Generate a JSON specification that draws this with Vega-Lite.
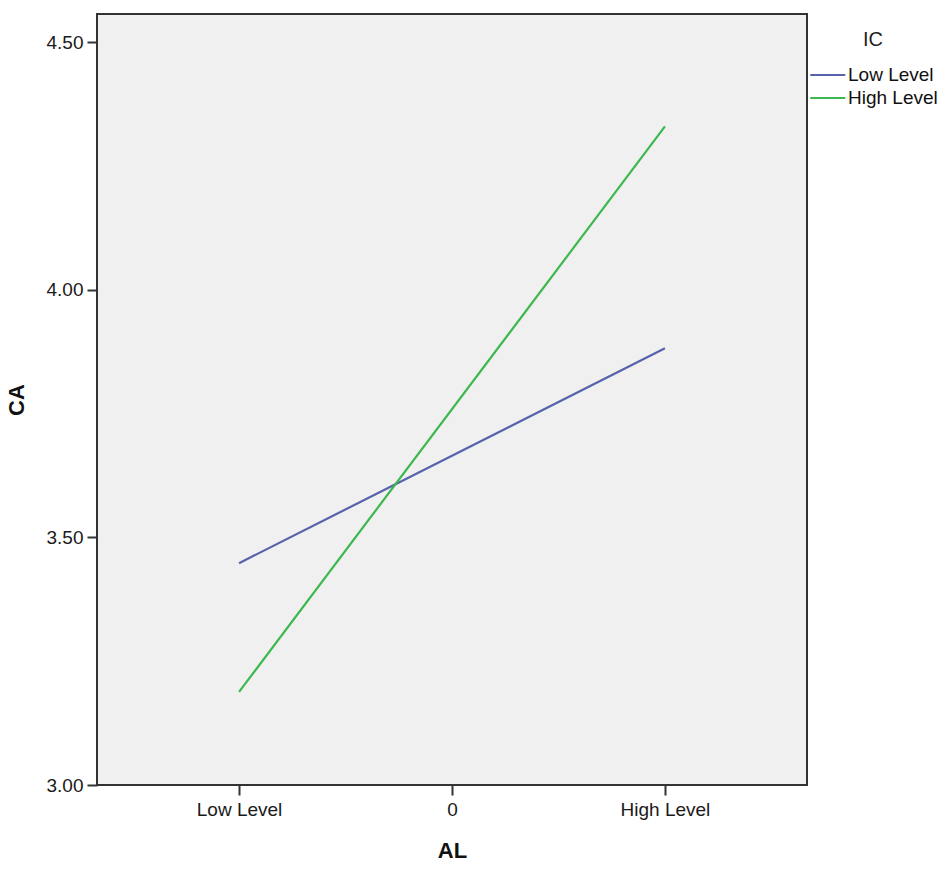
{
  "$schema": "https://vega.github.io/schema/vega-lite/v6.json",
  "autosize": "none",
  "width": 710,
  "height": 771,
  "padding": {"left": 97, "top": 14, "right": 138, "bottom": 89},
  "background": "white",
  "config": {
    "font": "Liberation Sans",
    "view": {"fill": "#f0f0f0", "stroke": "#333333", "strokeWidth": 2},
    "axis": {
      "domain": false,
      "grid": false,
      "ticks": true,
      "tickColor": "#333333",
      "tickWidth": 2,
      "tickSize": 10,
      "labelFont": "Liberation Sans",
      "labelFontSize": 19,
      "labelColor": "#1a1a1a",
      "titleFont": "Liberation Sans",
      "titleFontSize": 22,
      "titleFontWeight": "bold",
      "titleColor": "#111111"
    },
    "legend": {
      "labelFont": "Liberation Sans",
      "titleFont": "Liberation Sans"
    }
  },
  "data": {
    "values": [
      {"AL": -1, "CA": 3.448, "IC": "Low Level"},
      {"AL": 1, "CA": 3.882, "IC": "Low Level"},
      {"AL": -1, "CA": 3.188, "IC": "High Level"},
      {"AL": 1, "CA": 4.330, "IC": "High Level"}
    ]
  },
  "mark": {"type": "line", "strokeWidth": 2.2, "clip": true},
  "encoding": {
    "x": {
      "field": "AL",
      "type": "quantitative",
      "scale": {"domain": [-1.667, 1.667], "nice": false, "zero": false},
      "axis": {
        "title": "AL",
        "values": [-1, 0, 1],
        "labelExpr": "datum.value == -1 ? 'Low Level' : datum.value == 1 ? 'High Level' : '0'",
        "labelPadding": 5,
        "titlePadding": 21
      }
    },
    "y": {
      "field": "CA",
      "type": "quantitative",
      "scale": {"domain": [3, 4.557], "nice": false, "zero": false},
      "axis": {
        "title": "CA",
        "values": [3, 3.5, 4, 4.5],
        "format": ".2f",
        "labelPadding": 4,
        "titlePadding": 18
      }
    },
    "color": {
      "field": "IC",
      "type": "nominal",
      "sort": ["Low Level", "High Level"],
      "scale": {"domain": ["Low Level", "High Level"], "range": ["#5662AC", "#3DB84E"]},
      "legend": {
        "title": "IC",
        "orient": "none",
        "legendX": 712,
        "legendY": 16,
        "titleFontSize": 20,
        "titleFontWeight": "normal",
        "titleColor": "#222222",
        "titleAnchor": "middle",
        "titlePadding": 15,
        "labelFontSize": 19,
        "labelColor": "#111111",
        "labelOffset": 19,
        "symbolType": "M-1,0H3",
        "symbolSize": 306,
        "symbolStrokeWidth": 2.2,
        "rowPadding": 3
      }
    }
  }
}
